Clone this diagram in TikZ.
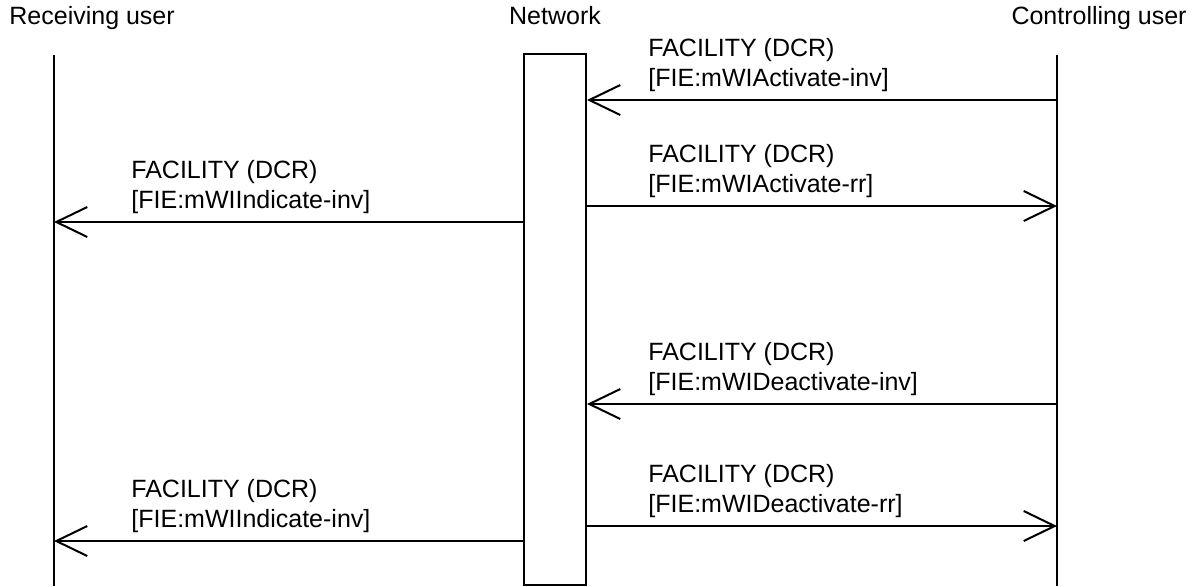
\documentclass[tikz,border=0pt]{standalone}
\usepackage{fontspec}
\setmainfont{Liberation Sans}
\usetikzlibrary{arrows.meta}
\tikzset{
  msg/.style={line width=1pt, -{Straight Barb[length=15.5pt,width=15pt,line width=1pt]}},
  lifeline/.style={line width=1pt},
  lbl/.style={anchor=base west, align=left, inner sep=0pt, font=\fontsize{12.5}{15}\selectfont},
  head/.style={inner sep=0pt, font=\fontsize{12.5}{15}\selectfont},
}

\begin{document}
\begin{tikzpicture}[x=0.5pt, y=-0.5pt]
\useasboundingbox (0,0) rectangle (1204,586);
\node[head, anchor=base west] (recv) at (9,24) {Receiving user};
	\node[head, anchor=base] (netname) at (555,24) {Network};
	\node[head, anchor=base east] (ctrl) at (1187,24) {Controlling user};
	
	\coordinate (rtop) at (54,55);
	\coordinate (rbot) at (54,586);
	\coordinate (ctop) at (1057,55);
	\coordinate (cbot) at (1057,586);
	\node[draw, line width=1pt, minimum width=31pt, minimum height=265.5pt, inner sep=0pt] (net) at (555,319.5) {};
	
	\draw[lifeline] (rtop) -- (rbot);
	\draw[lifeline] (ctop) -- (cbot);
	
	\coordinate (c1) at (1057,100);
	\coordinate (c2) at (1057,206);
	\coordinate (r3) at (54,222);
	\coordinate (c4) at (1057,404);
	\coordinate (c5) at (1057,526);
	\coordinate (r6) at (54,541);
	
	\draw[msg] (c1) -- (c1 -| net.east);
	\draw[msg] (c2 -| net.east) -- (c2);
	\draw[msg] (r3 -| net.west) -- (r3);
	\draw[msg] (c4) -- (c4 -| net.east);
	\draw[msg] (c5 -| net.east) -- (c5);
	\draw[msg] (r6 -| net.west) -- (r6);
	
	% base anchor sits on the second line
	\node[lbl] (l1) at (648,86) {FACILITY (DCR)\\{}[FIE:mWIActivate-inv]};
	\node[lbl] (l2) at (648,192) {FACILITY (DCR)\\{}[FIE:mWIActivate-rr]};
	\node[lbl] (l3) at (131,208) {FACILITY (DCR)\\{}[FIE:mWIIndicate-inv]};
	\node[lbl] (l4) at (648,390) {FACILITY (DCR)\\{}[FIE:mWIDeactivate-inv]};
	\node[lbl] (l5) at (648,512) {FACILITY (DCR)\\{}[FIE:mWIDeactivate-rr]};
	\node[lbl] (l6) at (131,527) {FACILITY (DCR)\\{}[FIE:mWIIndicate-inv]};

\end{tikzpicture}
\end{document}
